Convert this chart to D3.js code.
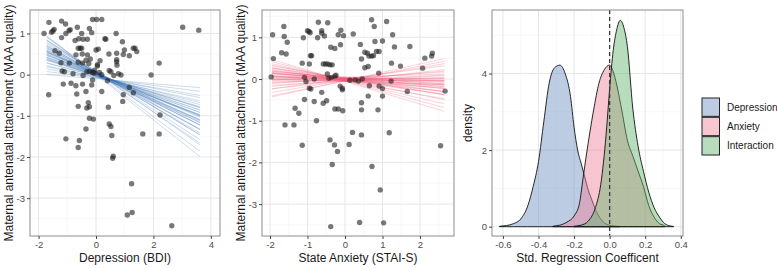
<!DOCTYPE html>
<html>
<head>
<meta charset="utf-8">
<script src="https://cdn.jsdelivr.net/npm/d3@7"></script>
<style>
  body { margin: 0; background: #fff; }
  svg { font-family: "Liberation Sans", Arial, sans-serif; }
</style>
</head>
<body>
<svg id="chart" width="777" height="268"></svg>
<script>

// ---- panel 1: depression vs MAA quality
const depPoints = [
  [-1.81,1.00],[-1.64,1.27],[-1.65,-0.49],[-1.55,1.03],[-1.50,1.06],[-1.46,1.10],
  [-1.20,1.30],[-1.06,1.23],[-1.20,0.90],[-1.05,1.00],[-0.94,1.07],[-0.90,1.09],
  [-0.65,1.15],[-0.50,1.00],[-0.73,0.83],[-0.60,0.87],[-0.45,0.86],[-0.30,0.86],
  [-0.12,1.34],[0.02,1.34],[0.20,1.34],[-0.23,1.12],[-0.15,1.02],[0.34,0.86],[0.31,0.87],
  [0.70,1.00],[0.92,0.80],[3.02,1.15],[3.58,1.08],
  [-1.43,0.58],[-1.28,0.52],[-1.22,0.29],[-0.93,0.28],[-0.70,0.48],[-0.62,0.64],[-0.55,0.64],
  [-0.50,0.64],[-0.48,0.50],[-0.47,0.28],[-0.62,0.30],
  [-0.32,0.07],[-0.22,0.08],[-0.12,0.05],[-0.06,0.04],[0.05,0.21],[0.14,0.34],[0.00,0.60],
  [0.08,0.62],[-0.20,0.38],[-0.35,0.35],
  [0.45,0.50],[0.72,0.52],[0.72,0.36],[0.72,0.31],[0.73,0.23],[0.95,0.49],[0.99,0.60],
  [1.16,0.46],[1.30,0.64],[1.36,0.64],[1.42,0.56],
  [2.20,0.28],[1.92,-0.01],[0.87,-0.01],[0.78,0.02],[0.52,0.07],[0.46,0.10],[0.20,0.00],[-0.05,0.11],
  [-1.14,-0.23],[-0.87,-0.21],[-0.70,-0.27],[-0.47,-0.23],[-0.35,-0.41],[-0.67,-0.47],
  [-0.15,-0.25],[-0.12,-0.13],[0.20,-0.41],[0.43,-0.79],[0.93,-0.65],[1.16,-0.31],[0.95,-0.49],[1.30,-0.44],
  [-0.32,-0.81],[-0.23,-0.78],[-0.62,-0.77],[-0.27,-0.68],[-0.23,-1.06],[-0.09,-1.08],[-0.35,-1.32],
  [0.46,-1.20],[0.52,-1.26],[0.55,-1.48],[1.63,-1.44],[2.20,-1.44],[2.23,-0.98],
  [-1.05,-1.56],[-0.58,-1.60],[-0.62,-1.77],[0.60,-1.98],[0.58,-2.03],[1.24,-2.65],
  [1.26,-3.35],[1.09,-3.41],[2.64,-3.67],
  [0.40,-0.15],[0.62,-0.02],[-0.80,0.02],[-1.10,0.07],[-1.18,0.09],[-0.45,-0.02],
  [-0.25,0.27],[-0.30,0.48],[0.12,0.05],[0.05,0.24]
];
// posterior draws of the regression line (intercept, slope)
const depIntercepts = [-0.10,-0.08,-0.07,-0.05,-0.06,-0.03,-0.04,-0.02,0.00,-0.03,0.01,-0.01,0.02,0.00,0.03,
  0.01,0.04,-0.02,0.05,0.02,0.00,0.06,0.03,0.01,0.05,0.07,0.02,0.04,0.08,0.03,0.06,0.09,0.05,0.04,0.07,0.02,0.00,
  -0.04,0.03,-0.01];
const depSlopes = [-0.06,-0.09,-0.12,-0.14,-0.16,-0.18,-0.19,-0.21,-0.22,-0.23,-0.24,-0.25,-0.26,-0.27,-0.28,
  -0.28,-0.29,-0.30,-0.30,-0.31,-0.32,-0.33,-0.33,-0.34,-0.35,-0.36,-0.37,-0.38,-0.39,-0.40,-0.42,-0.43,-0.45,
  -0.47,-0.49,-0.52,-0.55,-0.26,-0.31,-0.22];
const depLineRange = [-1.72, 3.62];

// ---- panel 2: state anxiety vs MAA quality
const anxPoints = [
  [-1.97,0.05],[-1.93,1.06],[-1.91,0.49],[-1.63,1.26],[-1.62,1.02],[-1.54,0.88],[-1.69,0.63],[-1.57,0.60],
  [-1.60,-1.10],[-1.36,-1.10],[-1.33,-0.70],[-1.23,-0.82],[-1.14,-1.59],[-1.11,0.99],[-1.08,-0.49],
  [-1.14,0.38],[-1.08,0.04],[-1.04,-0.06],[-1.00,1.16],[-0.96,1.14],[-0.93,1.11],[-0.92,0.56],[-0.89,0.56],
  [-0.95,-0.22],[-0.91,-0.24],[-0.95,0.36],[-0.82,-0.54],[-0.76,-1.00],[-0.82,0.00],[-0.73,0.99],[-0.71,1.36],
  [-0.62,1.16],[-0.62,1.10],[-0.55,1.03],[-0.62,-0.32],[-0.58,-0.58],[-0.49,-0.52],[-0.58,0.36],[-0.52,0.36],
  [-0.46,0.36],[-0.40,0.34],[-0.34,0.34],[-0.46,1.35],[-0.38,0.76],[-0.27,0.73],[-0.47,0.12],[-0.43,0.02],
  [-0.36,0.04],[-0.40,-1.46],[-0.28,-1.58],[-0.34,-2.05],[-0.38,-3.54],[-0.27,-0.72],[-0.18,-0.72],
  [-0.06,-0.76],[-0.20,-1.74],[-0.18,1.06],[-0.04,1.04],[-0.11,1.17],[-0.12,0.82],[-0.13,-0.17],
  [-0.07,-0.26],[-0.07,-0.22],[-0.27,0.07],[-0.24,0.09],[0.11,-1.57],[0.20,-1.28],[0.22,1.08],
  [0.13,-0.03],[0.27,-0.02],[0.36,-0.05],[0.41,0.83],[0.44,0.48],[0.44,-0.57],[0.44,-0.74],[0.44,-1.34],
  [0.46,0.00],[0.53,0.64],[0.60,0.62],[0.64,0.55],[0.71,0.55],[0.76,0.56],[0.84,0.66],[0.91,0.66],
  [0.53,0.27],[0.62,0.30],[0.65,-0.16],[0.62,-0.41],[0.71,1.42],[0.78,1.26],[0.80,0.90],[0.72,-2.10],
  [0.88,-0.74],[0.90,0.14],[0.91,-0.17],[0.94,-2.66],[1.00,0.91],[1.00,-0.23],[1.00,-0.41],[1.11,1.38],
  [1.18,-1.29],[1.23,-0.05],[1.27,1.06],[1.32,0.77],[1.24,0.38],[1.03,-3.45],[0.39,-3.44],[1.48,0.31],
  [1.66,-0.30],[1.73,0.78],[2.07,0.26],[2.13,0.50],[2.33,0.62],[2.31,0.55],[2.55,-1.60],[2.67,-0.29]
];
const anxIntercepts = [-0.06,-0.05,-0.04,-0.02,-0.05,0.00,-0.03,0.02,-0.01,-0.04,0.01,-0.02,0.03,0.00,-0.05,
  0.04,-0.01,0.02,-0.03,0.05,0.00,-0.06,0.01,0.03,-0.02,-0.04,0.02,0.00,-0.03,0.04,-0.01,-0.05,0.01,-0.02,
  -0.04,0.00,-0.03,-0.05,-0.04,0.02];
const anxSlopes = [-0.27,-0.24,-0.21,-0.18,-0.16,-0.14,-0.13,-0.12,-0.11,-0.10,-0.09,-0.08,-0.08,-0.07,-0.06,
  -0.06,-0.05,-0.05,-0.04,-0.04,-0.03,-0.03,-0.02,-0.02,-0.01,0.00,0.00,0.01,0.02,0.03,0.04,0.05,0.06,0.08,
  0.10,0.12,0.15,0.18,0.20,-0.15];
const anxLineRange = [-1.95, 2.65];

// ---- panel 3: posterior densities of the std. coefficients
const densNames = ['Depression', 'Anxiety', 'Interaction'];
const depDensX = [-0.62,-0.58,-0.54,-0.50,-0.46,-0.43,-0.40,-0.37,-0.34,-0.31,-0.28,-0.25,-0.22,-0.20,-0.18,
  -0.16,-0.14,-0.12,-0.10,-0.08,-0.05,-0.02,0.02,0.06];
const depDensY = [0.01,0.03,0.08,0.20,0.55,1.05,1.70,2.75,3.75,4.15,4.22,4.00,3.40,2.60,2.00,1.65,1.30,0.95,
  0.70,0.45,0.20,0.07,0.02,0.005];
const anxDensX = [-0.32,-0.28,-0.24,-0.20,-0.17,-0.15,-0.13,-0.11,-0.09,-0.06,-0.03,0.00,0.02,0.04,0.07,0.10,
  0.13,0.16,0.19,0.22,0.25,0.28,0.31];
const anxDensY = [0.01,0.04,0.12,0.28,0.60,1.25,1.90,2.50,3.05,3.75,4.10,4.22,4.05,3.70,3.00,2.25,1.85,1.45,
  1.05,0.55,0.25,0.08,0.02];
const intDensX = [-0.20,-0.16,-0.12,-0.08,-0.05,-0.02,0.00,0.02,0.04,0.06,0.08,0.10,0.13,0.16,0.19,0.22,0.25,
  0.28,0.31,0.34,0.36];
const intDensY = [0.01,0.04,0.15,0.50,1.10,2.40,3.60,4.60,5.15,5.39,5.20,4.70,3.10,2.10,1.45,0.90,0.50,0.25,
  0.08,0.02,0.005];


const svg = d3.select('#chart');
const fontTick = 9.5, fontTitle = 12;

function drawGrid(g, x, y, xMajor, xMinor, yMajor, yMinor) {
    let x0 = x.range()[0], x1 = x.range()[1],
        y0 = y.range()[0], y1 = y.range()[1];
    g.selectAll(null).data(xMinor).enter().append('line')
        .attr('x1', d => x(d)).attr('x2', d => x(d)).attr('y1', y0).attr('y2', y1)
        .attr('stroke', '#f4f4f4').attr('stroke-width', 0.6);
    g.selectAll(null).data(yMinor).enter().append('line')
        .attr('y1', d => y(d)).attr('y2', d => y(d)).attr('x1', x0).attr('x2', x1)
        .attr('stroke', '#f4f4f4').attr('stroke-width', 0.6);
    g.selectAll(null).data(xMajor).enter().append('line')
        .attr('x1', d => x(d)).attr('x2', d => x(d)).attr('y1', y0).attr('y2', y1)
        .attr('stroke', '#e6e6e6').attr('stroke-width', 1);
    g.selectAll(null).data(yMajor).enter().append('line')
        .attr('y1', d => y(d)).attr('y2', d => y(d)).attr('x1', x0).attr('x2', x1)
        .attr('stroke', '#e6e6e6').attr('stroke-width', 1);
}

function drawAxes(g, x, y, xMajor, yMajor, fmt, xTitle, yTitle, yTitleX) {
    let x0 = x.range()[0], x1 = x.range()[1],
        y0 = y.range()[0], y1 = y.range()[1];

    // panel border
    g.append('rect')
        .attr('x', x0).attr('y', y1).attr('width', x1 - x0).attr('height', y0 - y1)
        .attr('fill', 'none').attr('stroke', '#8c8c8c').attr('stroke-width', 1);

    let xa = g.append('g').attr('transform', `translate(0,${y0})`)
        .call(d3.axisBottom(x).tickValues(xMajor).tickSize(3).tickPadding(2).tickFormat(fmt));
    let ya = g.append('g').attr('transform', `translate(${x0},0)`)
        .call(d3.axisLeft(y).tickValues(yMajor).tickSize(3).tickPadding(2).tickFormat(d => String(d)));
    [xa, ya].forEach(a => {
        a.select('.domain').remove();
        a.selectAll('line').attr('stroke', '#444');
        a.selectAll('text').attr('fill', '#4d4d4d').style('font-size', fontTick + 'px')
            .style('font-family', '"Liberation Sans", Arial, sans-serif');
    });

    g.append('text')
        .attr('x', (x0 + x1) / 2).attr('y', 262)
        .attr('text-anchor', 'middle').style('font-size', fontTitle + 'px').attr('fill', '#1a1a1a')
        .text(xTitle);
    g.append('text')
        .attr('transform', `translate(${yTitleX},${(y0 + y1) / 2}) rotate(-90)`)
        .attr('text-anchor', 'middle').style('font-size', fontTitle + 'px').attr('fill', '#1a1a1a')
        .text(yTitle);
}

const scatterPanel = function(cfg){
    let x = d3.scaleLinear().domain(cfg.xDomain).range([cfg.left, cfg.right]),
        y = d3.scaleLinear().domain(cfg.yDomain).range([236, 10]);
    let g = svg.append('g');

    drawGrid(g, x, y, cfg.xMajor, cfg.xMinor, [-3,-2,-1,0,1], [-3.5,-2.5,-1.5,-0.5,0.5,1.5]);

    // regression draws
    let lines = cfg.intercepts.map((a, i) => ({a: a, b: cfg.slopes[i]}));
    g.selectAll('.reg').data(lines).enter().append('line')
        .attr('class', 'reg')
        .attr('x1', x(cfg.lineRange[0])).attr('x2', x(cfg.lineRange[1]))
        .attr('y1', d => y(d.a + d.b * cfg.lineRange[0]))
        .attr('y2', d => y(d.a + d.b * cfg.lineRange[1]))
        .attr('stroke', cfg.lineColor).attr('stroke-opacity', 0.25).attr('stroke-width', 1);

    g.selectAll('.pt').data(cfg.points).enter().append('circle')
        .attr('class', 'pt')
        .attr('cx', d => x(d[0])).attr('cy', d => y(d[1])).attr('r', 2.7)
        .attr('fill', '#1e1e1e').attr('fill-opacity', 0.6);

    drawAxes(g, x, y, cfg.xMajor, [-3,-2,-1,0,1], d => String(d),
        cfg.xTitle, 'Maternal antenatal attachment (MAA quality)', cfg.yTitleX);
};

scatterPanel({
    points: depPoints, intercepts: depIntercepts, slopes: depSlopes, lineRange: depLineRange,
    xDomain: [-2.3, 4.32], yDomain: [-3.92, 1.57], left: 30, right: 220,
    xMajor: [-2,0,2,4], xMinor: [-1,1,3],
    lineColor: '#3a74b4', xTitle: 'Depression (BDI)', yTitleX: 13
});

scatterPanel({
    points: anxPoints, intercepts: anxIntercepts, slopes: anxSlopes, lineRange: anxLineRange,
    xDomain: [-2.213, 2.907], yDomain: [-3.765, 1.655], left: 262, right: 454,
    xMajor: [-2,-1,0,1,2], xMinor: [-1.5,-0.5,0.5,1.5,2.5],
    lineColor: '#f0506e', xTitle: 'State Anxiety (STAI-S)', yTitleX: 245
});

// ---- density panel
const densityPanel = function(){
    let x = d3.scaleLinear().domain([-0.6615, 0.4125]).range([492, 683]),
        y = d3.scaleLinear().domain([-0.243, 5.66]).range([236, 10]);
    let g = svg.append('g');
    let xMajor = [-0.6,-0.4,-0.2,0.0,0.2,0.4];

    drawGrid(g, x, y, xMajor, [-0.5,-0.3,-0.1,0.1,0.3], [0,2,4], [1,3,5]);

    let fills = ['#6a8fc0', '#f08098', '#5fb46a'];
    let series = [
        depDensX.map((v, i) => [v, depDensY[i]]),
        anxDensX.map((v, i) => [v, anxDensY[i]]),
        intDensX.map((v, i) => [v, intDensY[i]])
    ];
    let area = d3.area()
        .x(d => x(d[0])).y0(y(0)).y1(d => y(d[1]))
        .curve(d3.curveMonotoneX);

    series.forEach(function(s, i){
        // close the outline along the baseline like ggplot does
        let pts = [[s[0][0], 0]].concat(s, [[s[s.length - 1][0], 0]]);
        g.append('path')
            .datum(pts)
            .attr('d', area)
            .attr('fill', fills[i]).attr('fill-opacity', 0.45)
            .attr('stroke', '#111').attr('stroke-width', 0.9)
            .attr('stroke-linejoin', 'round');
    });

    g.append('line')
        .attr('x1', x(0)).attr('x2', x(0)).attr('y1', 10).attr('y2', 236)
        .attr('stroke', '#3a3a3a').attr('stroke-width', 1.3).attr('stroke-dasharray', '4,3');

    drawAxes(g, x, y, xMajor, [0,2,4], d => d.toFixed(1),
        'Std. Regression Coefficent', 'density', 472);

    // legend
    let lg = svg.append('g');
    let keyY = d3.scaleBand().domain(densNames).range([97.5, 155.5]);
    densNames.forEach(function(n, i){
        lg.append('rect').attr('x', 702).attr('y', keyY(n) + 0.5)
            .attr('width', 17.5).attr('height', keyY.bandwidth() - 1)
            .attr('fill', '#fff').attr('stroke', 'none');
        lg.append('rect').attr('x', 702).attr('y', keyY(n) + 0.5)
            .attr('width', 17.5).attr('height', keyY.bandwidth() - 1)
            .attr('fill', fills[i]).attr('fill-opacity', 0.45)
            .attr('stroke', '#222').attr('stroke-width', 1);
        lg.append('text').attr('x', 727).attr('y', keyY(n) + keyY.bandwidth() / 2 + 3.5)
            .style('font-size', '10px').attr('fill', '#1a1a1a')
            .text(n);
    });
};
densityPanel();

</script>
</body>
</html>
